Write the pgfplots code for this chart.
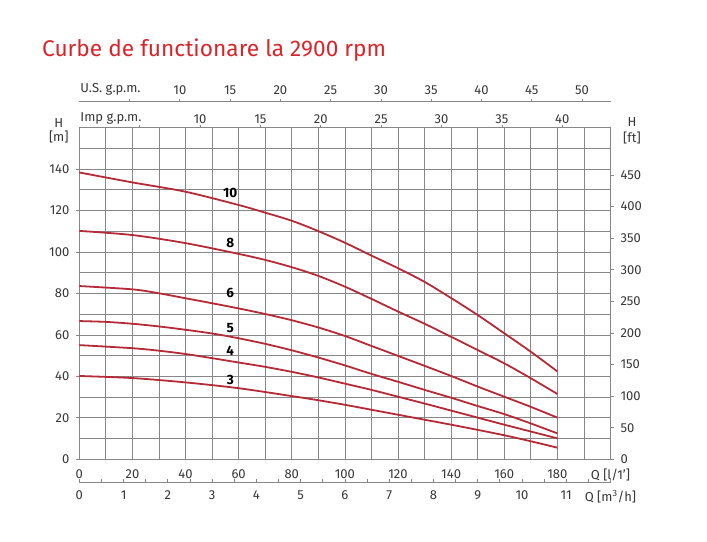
\documentclass[border=0pt]{standalone}
\usepackage{fontspec}
\setmainfont{Fira Sans}
\usepackage{pgfplots}
\pgfplotsset{compat=1.18}
\definecolor{curve}{RGB}{180,42,54}
\definecolor{gridc}{RGB}{135,135,135}
\definecolor{txt}{RGB}{55,55,55}
\definecolor{titlec}{RGB}{215,38,43}
\newcommand{\tl}{\fontsize{13bp}{15bp}\selectfont}
\begin{document}
\begin{tikzpicture}
\path[use as bounding box] (-79.3bp,-82.7bp) rectangle (627.7bp,459.3bp);
\pgfplotsset{
  base/.style={scale only axis, width=531.2bp, xmin=0,
    tick label style={font=\tl, text=txt},
    /pgf/number format/assume math mode=true,
    axis line style={gridc, line width=0.8bp},
    tick style={gridc, line width=0.8bp},
    major tick length=3bp, minor tick length=3bp},
}
% main axis (l/min, m)
\begin{axis}[base, height=331.6bp, xmax=200, ymin=0, ymax=160,
  xtick={0,20,...,200},
  xticklabels={0,20,40,60,80,100,120,140,160,180,{Q [l/1']}},
  minor xtick={10,30,...,190},
  ytick={0,20,...,140}, minor ytick={10,30,...,150},
  xtick pos=bottom, ytick pos=left,
  xtick style={draw=none}, minor tick length=0pt,
  tick align=outside,
  grid=both,
  major grid style={gridc, line width=0.8bp},
  minor grid style={gridc, line width=0.8bp},
  xticklabel style={yshift=-3.5bp},
  yticklabel style={xshift=-3.5bp},
  clip=false]
\addplot[curve, line width=1.8bp, smooth] coordinates {
(0,138.4)(20,133.6)(40,129.1)(60,122.7)(70,119.0)(80,115.1)(90,110.1)(100,104.5)(110,98.3)(120,92.2)(130,85.6)(140,77.8)(150,69.6)(160,60.8)(170,51.9)(180,42.4)};
\addplot[curve, line width=1.8bp, smooth] coordinates {
(0,110.2)(20,108.2)(40,104.3)(60,99.1)(70,96.2)(80,92.7)(90,88.5)(100,83.3)(110,77.4)(120,71.3)(130,65.4)(140,59.1)(150,52.7)(160,46.3)(170,39.1)(180,31.5)};
\addplot[curve, line width=1.8bp, smooth] coordinates {
(0,83.6)(20,82.0)(30,80.1)(40,77.7)(50,75.3)(60,72.8)(70,70.1)(80,67.1)(90,63.6)(100,59.5)(110,54.7)(120,49.9)(130,45.1)(140,40.2)(150,35.1)(160,30.2)(170,25.3)(180,20.1)};
\addplot[curve, line width=1.8bp, smooth] coordinates {
(0,66.7)(10,66.3)(20,65.4)(30,64.1)(40,62.5)(50,60.7)(60,58.4)(70,55.7)(80,52.6)(90,49.1)(100,45.3)(110,41.2)(120,37.4)(130,33.5)(140,29.7)(150,25.7)(160,21.8)(170,17.3)(180,12.5)};
\addplot[curve, line width=1.8bp, smooth] coordinates {
(0,55.1)(20,53.6)(30,52.4)(40,50.8)(50,48.8)(60,46.7)(70,44.6)(80,42.2)(90,39.5)(100,36.5)(110,33.5)(120,30.2)(130,26.9)(140,23.5)(150,20.1)(160,16.7)(170,13.4)(180,10.1)};
\addplot[curve, line width=1.8bp, smooth] coordinates {
(0,40.2)(20,39.2)(40,37.1)(60,34.3)(80,30.5)(90,28.5)(100,26.3)(110,23.9)(120,21.5)(130,19.1)(140,16.7)(150,14.2)(160,11.6)(170,8.7)(180,5.6)};
\begin{scope}[font=\fontsize{13.5bp}{15bp}\selectfont\bfseries]
\node at (axis cs:56.85,128.3) {10};
\node at (axis cs:56.85,104.5) {8};
\node at (axis cs:56.85,80.2) {6};
\node at (axis cs:56.85,63.2) {5};
\node at (axis cs:56.85,52.4) {4};
\node at (axis cs:56.85,38.5) {3};
\end{scope}
\node[font=\tl, text=txt, align=center, inner sep=0] at (rel axis cs:0,1) [xshift=-20.5bp, yshift=-3.5bp] {H\\[-1bp][m]};
\node[font=\tl, text=txt, align=center, inner sep=0] at (rel axis cs:1,1) [xshift=21.5bp, yshift=-3.5bp] {H\\[1bp][ft]};
\end{axis}
% right axis (ft)
\begin{axis}[base, height=331.6bp, xmax=200, ymin=0, ymax=524.934,
  axis x line=none, axis y line*=right,
  ytick={0,50,...,450}, tick align=outside,
  yticklabel style={xshift=3.5bp}]
\end{axis}
% Imp gpm (top of main)
\begin{axis}[base, height=331.6bp, xmax=43.9938, ymin=0, ymax=1,
  axis y line=none, axis x line*=top,
  xtick={5,10,...,40}, xticklabels={,10,15,20,25,30,35,40},
  tick align=outside, xticklabel style={yshift=-2.4bp}, clip=false]
\node[font=\tl, text=txt, anchor=west, inner sep=0] at (rel axis cs:0,1) [xshift=1bp, yshift=9.4bp] {Imp g.p.m.};
\end{axis}
% US gpm
\begin{axis}[base, at={(0,331.6bp)}, anchor=south west, height=26bp, xmax=52.834, ymin=0, ymax=1,
  axis y line=none, axis x line*=top,
  xtick={5,10,...,50}, xticklabels={,10,15,20,25,30,35,40,45,50},
  tick align=outside, xticklabel style={yshift=0.6bp}, clip=false]
\node[font=\tl, text=txt, anchor=west, inner sep=0] at (rel axis cs:0,1) [xshift=1bp, yshift=12.4bp] {U.S. g.p.m.};
\end{axis}
% m3/h
\begin{axis}[base, at={(0,-23bp)}, anchor=south west, height=10bp, xmax=12, ymin=0, ymax=1,
  axis y line=none, axis x line*=bottom,
  xtick={0,1,2,3,4,5,6,7,8,9,10,11,12},
  xticklabels={0,1,2,3,4,5,6,7,8,9,10,11,{Q [m\textsuperscript{3}/h]}},
  minor xtick={0.5,1.5,...,11.5},
  tick align=inside, xticklabel style={yshift=-4.6bp}]
\end{axis}
\node[anchor=west, inner sep=0, text=titlec, font=\fontsize{22.7bp}{27bp}\selectfont] at (-37.3bp,409.3bp) {Curbe de functionare la 2900 rpm};
\end{tikzpicture}
\end{document}
